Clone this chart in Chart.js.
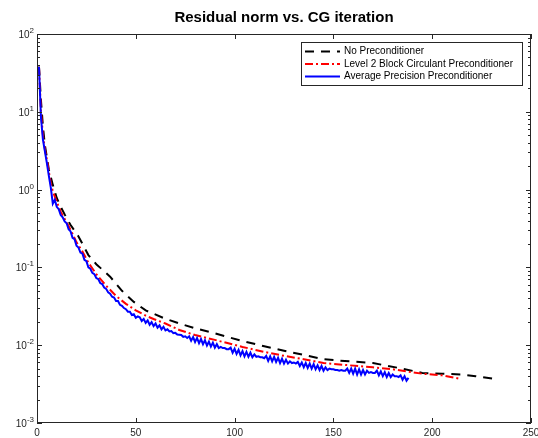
<!DOCTYPE html>
<html>
<head>
<meta charset="utf-8">
<script src="https://cdn.jsdelivr.net/npm/chart.js@4.4.1/dist/chart.umd.min.js"></script>
<style>
  html, body { margin: 0; padding: 0; background: #fff; }
  #wrap { width: 538px; height: 438px; }
</style>
</head>
<body>
<div id="wrap"><canvas id="myChart" width="538" height="438"></canvas></div>
<script>
const chartTitle = "Residual norm vs. CG iteration";
const seriesNames = ["No Preconditioner", "Level 2 Block Circulant Preconditioner", "Average Precision Preconditioner"];

// no preconditioner (black dashed)
const noPrecIter = [1, 2, 3, 4, 5, 6, 8, 10, 12, 14, 17, 21, 26, 30, 37, 43, 49, 55, 64, 72, 80, 90, 104, 115, 125, 135, 145, 158, 170, 183, 195, 205, 215, 222, 231];
const noPrecRes = [38, 14, 6.5, 3.7, 2.6, 1.8, 1.15, 0.78, 0.6, 0.48, 0.35, 0.25, 0.144, 0.11, 0.076, 0.05, 0.036, 0.028, 0.0224, 0.019, 0.0165, 0.0142, 0.0113, 0.0097, 0.0085, 0.0075, 0.0066, 0.0062, 0.0059, 0.0051, 0.0044, 0.0043, 0.0042, 0.0040, 0.0037];

// level 2 block circulant (red dash-dot)
const circIter = [1, 2, 3, 4, 5, 6, 7, 8, 10, 12, 14, 16, 18, 20, 23, 26, 30, 35, 40, 45, 50, 55, 59, 65, 72, 80, 90, 104, 115, 125, 135, 145, 155, 170, 180, 195, 205, 214];
const circRes = [38, 10, 5.0, 3.3, 2.4, 1.7, 1.2, 0.95, 0.70, 0.52, 0.42, 0.34, 0.27, 0.21, 0.16, 0.115, 0.082, 0.058, 0.043, 0.034, 0.028, 0.024, 0.0217, 0.019, 0.0157, 0.0135, 0.0117, 0.0095, 0.0082, 0.0073, 0.0066, 0.0059, 0.0056, 0.0052, 0.0049, 0.0043, 0.0041, 0.0037];

// average precision (blue solid), one value per iteration from 1 to 188
const avgPrecRes = [
  38, 8.5, 4.4, 3.1, 2.2, 1.5, 1.05, 0.66, 0.74, 0.60,
  0.56, 0.47, 0.44, 0.39, 0.37, 0.31, 0.29, 0.24, 0.23, 0.19,
  0.18, 0.155, 0.15, 0.125, 0.12, 0.10, 0.096, 0.085, 0.082, 0.073,
  0.071, 0.063, 0.061, 0.055, 0.053, 0.048, 0.046, 0.042, 0.041, 0.037,
  0.037, 0.033, 0.032, 0.030, 0.029, 0.027, 0.027, 0.0245, 0.025, 0.0225,
  0.0235, 0.0228, 0.0205, 0.0218, 0.0193, 0.0208, 0.0183, 0.0198, 0.0176, 0.0190,
  0.0168, 0.0180, 0.0160, 0.0172, 0.0155, 0.0160, 0.0150, 0.0152, 0.0143, 0.0144,
  0.0137, 0.0136, 0.0135, 0.0128, 0.0130, 0.0124, 0.0130, 0.0114, 0.0127, 0.0110,
  0.0124, 0.0106, 0.0120, 0.0103, 0.0116, 0.0099, 0.0111, 0.0096, 0.0108, 0.0093,
  0.0103, 0.0092, 0.0095, 0.0092, 0.0092, 0.0089, 0.0089, 0.0093, 0.0080, 0.0090,
  0.0077, 0.0087, 0.0074, 0.0084, 0.0072, 0.0082, 0.0071, 0.0080, 0.0070, 0.0076,
  0.0071, 0.0072, 0.0070, 0.0070, 0.0068, 0.0073, 0.0063, 0.0072, 0.0062, 0.0071,
  0.0061, 0.0069, 0.0059, 0.0067, 0.0058, 0.0065, 0.0058, 0.0062, 0.0059, 0.0060,
  0.0058, 0.0061, 0.0054, 0.0060, 0.0052, 0.0059, 0.0051, 0.0058, 0.0050, 0.0057,
  0.0049, 0.0055, 0.0048, 0.0054, 0.0047, 0.0052, 0.0048, 0.0050, 0.0049, 0.0049,
  0.0048, 0.0048, 0.0047, 0.0048, 0.0047, 0.0047, 0.0050, 0.0044, 0.0050, 0.0043,
  0.0050, 0.0042, 0.0049, 0.0042, 0.0048, 0.0042, 0.0047, 0.0044, 0.0045, 0.0044,
  0.0044, 0.0047, 0.0041, 0.0046, 0.0040, 0.0045, 0.0039, 0.0044, 0.0039, 0.0042,
  0.0040, 0.0040, 0.0039, 0.0041, 0.0036, 0.0040, 0.0035, 0.0038
];

const xTicks = [0, 50, 100, 150, 200, 250];
const yTickExps = [2, 1, 0, -1, -2, -3];

const lineColors = ["#000000", "#ff0000", "#0000ff"];
const lineDashes = [[9, 7], [8, 3, 2, 3], []];
const font = '"Liberation Sans", Arial, Helvetica, sans-serif';
const axisColor = "#262626";

function pairs(xs, ys) {
  return ys.map((y, i) => ({ x: xs[i], y: y }));
}

const avgPrecIter = avgPrecRes.map((v, i) => i + 1);

const datasets = [
  { label: seriesNames[0], data: pairs(noPrecIter, noPrecRes), borderColor: lineColors[0], borderDash: lineDashes[0], order: 2 },
  { label: seriesNames[1], data: pairs(circIter, circRes), borderColor: lineColors[1], borderDash: lineDashes[1], order: 1 },
  { label: seriesNames[2], data: pairs(avgPrecIter, avgPrecRes), borderColor: lineColors[2], borderDash: lineDashes[2], order: 0 }
];
datasets.forEach(d => {
  d.borderWidth = 2;
  d.pointRadius = 0;
  d.tension = 0;
  d.fill = false;
  d.borderCapStyle = "butt";
});

// axes box, inward ticks, labels, title and legend in MATLAB style
const matlabAxes = {
  id: "matlabAxes",
  afterDraw(chart) {
    const ctx = chart.ctx;
    const a = chart.chartArea;
    const xs = chart.scales.x;
    const ys = chart.scales.y;
    ctx.save();
    ctx.strokeStyle = axisColor;
    ctx.fillStyle = axisColor;
    ctx.lineWidth = 1;
    ctx.strokeRect(a.left + 0.5, a.top + 0.5, a.right - a.left - 1, a.bottom - a.top - 1);

    ctx.beginPath();
    xTicks.forEach(t => {
      const px = Math.round(xs.getPixelForValue(t)) + 0.5;
      ctx.moveTo(px, a.bottom); ctx.lineTo(px, a.bottom - 5);
      ctx.moveTo(px, a.top); ctx.lineTo(px, a.top + 5);
    });
    yTickExps.forEach(e => {
      const py = Math.round(ys.getPixelForValue(Math.pow(10, e))) + 0.5;
      ctx.moveTo(a.left, py); ctx.lineTo(a.left + 5, py);
      ctx.moveTo(a.right, py); ctx.lineTo(a.right - 5, py);
      if (e > -3) {
        for (let m = 2; m <= 9; m++) {
          const pm = Math.round(ys.getPixelForValue(m * Math.pow(10, e - 1))) + 0.5;
          ctx.moveTo(a.left, pm); ctx.lineTo(a.left + 3, pm);
          ctx.moveTo(a.right, pm); ctx.lineTo(a.right - 3, pm);
        }
      }
    });
    ctx.stroke();

    // x labels
    ctx.font = "10px " + font;
    ctx.textAlign = "center";
    ctx.textBaseline = "top";
    xTicks.forEach(t => ctx.fillText(String(t), xs.getPixelForValue(t), a.bottom + 5));

    // y labels as 10 with superscript exponent
    yTickExps.forEach(e => {
      const py = ys.getPixelForValue(Math.pow(10, e));
      ctx.font = "8px " + font;
      const expStr = String(e);
      const ew = ctx.measureText(expStr).width;
      ctx.textAlign = "left";
      ctx.textBaseline = "alphabetic";
      const right = a.left - 3;
      ctx.fillText(expStr, right - ew, py - 1);
      ctx.font = "10px " + font;
      ctx.textAlign = "right";
      ctx.fillText("10", right - ew, py + 4);
    });

    // title
    ctx.fillStyle = "#000";
    ctx.font = "bold 15px " + font;
    ctx.textAlign = "center";
    ctx.textBaseline = "middle";
    ctx.fillText(chartTitle, (a.left + a.right) / 2, 18);

    // legend
    const lx = 301, ly = 42, lw = 221, lh = 43;
    ctx.fillStyle = "#fff";
    ctx.fillRect(lx, ly, lw, lh);
    ctx.strokeStyle = axisColor;
    ctx.strokeRect(lx + 0.5, ly + 0.5, lw, lh);
    ctx.font = "10px " + font;
    ctx.textAlign = "left";
    ctx.textBaseline = "middle";
    seriesNames.forEach((name, i) => {
      const ry = ly + 9.5 + i * 12.5;
      ctx.strokeStyle = lineColors[i];
      ctx.lineWidth = 2;
      ctx.setLineDash(lineDashes[i]);
      ctx.beginPath();
      ctx.moveTo(305, ry); ctx.lineTo(340, ry);
      ctx.stroke();
      ctx.setLineDash([]);
      ctx.fillStyle = "#000";
      ctx.fillText(name, 344, ry);
    });
    ctx.restore();
  }
};

new Chart(document.getElementById("myChart"), {
  type: "line",
  data: { datasets: datasets },
  options: {
    responsive: false,
    animation: false,
    layout: { padding: { left: 37, right: 7, top: 34, bottom: 15 } },
    plugins: { legend: { display: false }, tooltip: { enabled: false }, title: { display: false } },
    scales: {
      x: { type: "linear", min: 0, max: 250, display: false },
      y: { type: "logarithmic", min: 1e-3, max: 1e2, display: false }
    }
  },
  plugins: [matlabAxes]
});
</script>
</body>
</html>
